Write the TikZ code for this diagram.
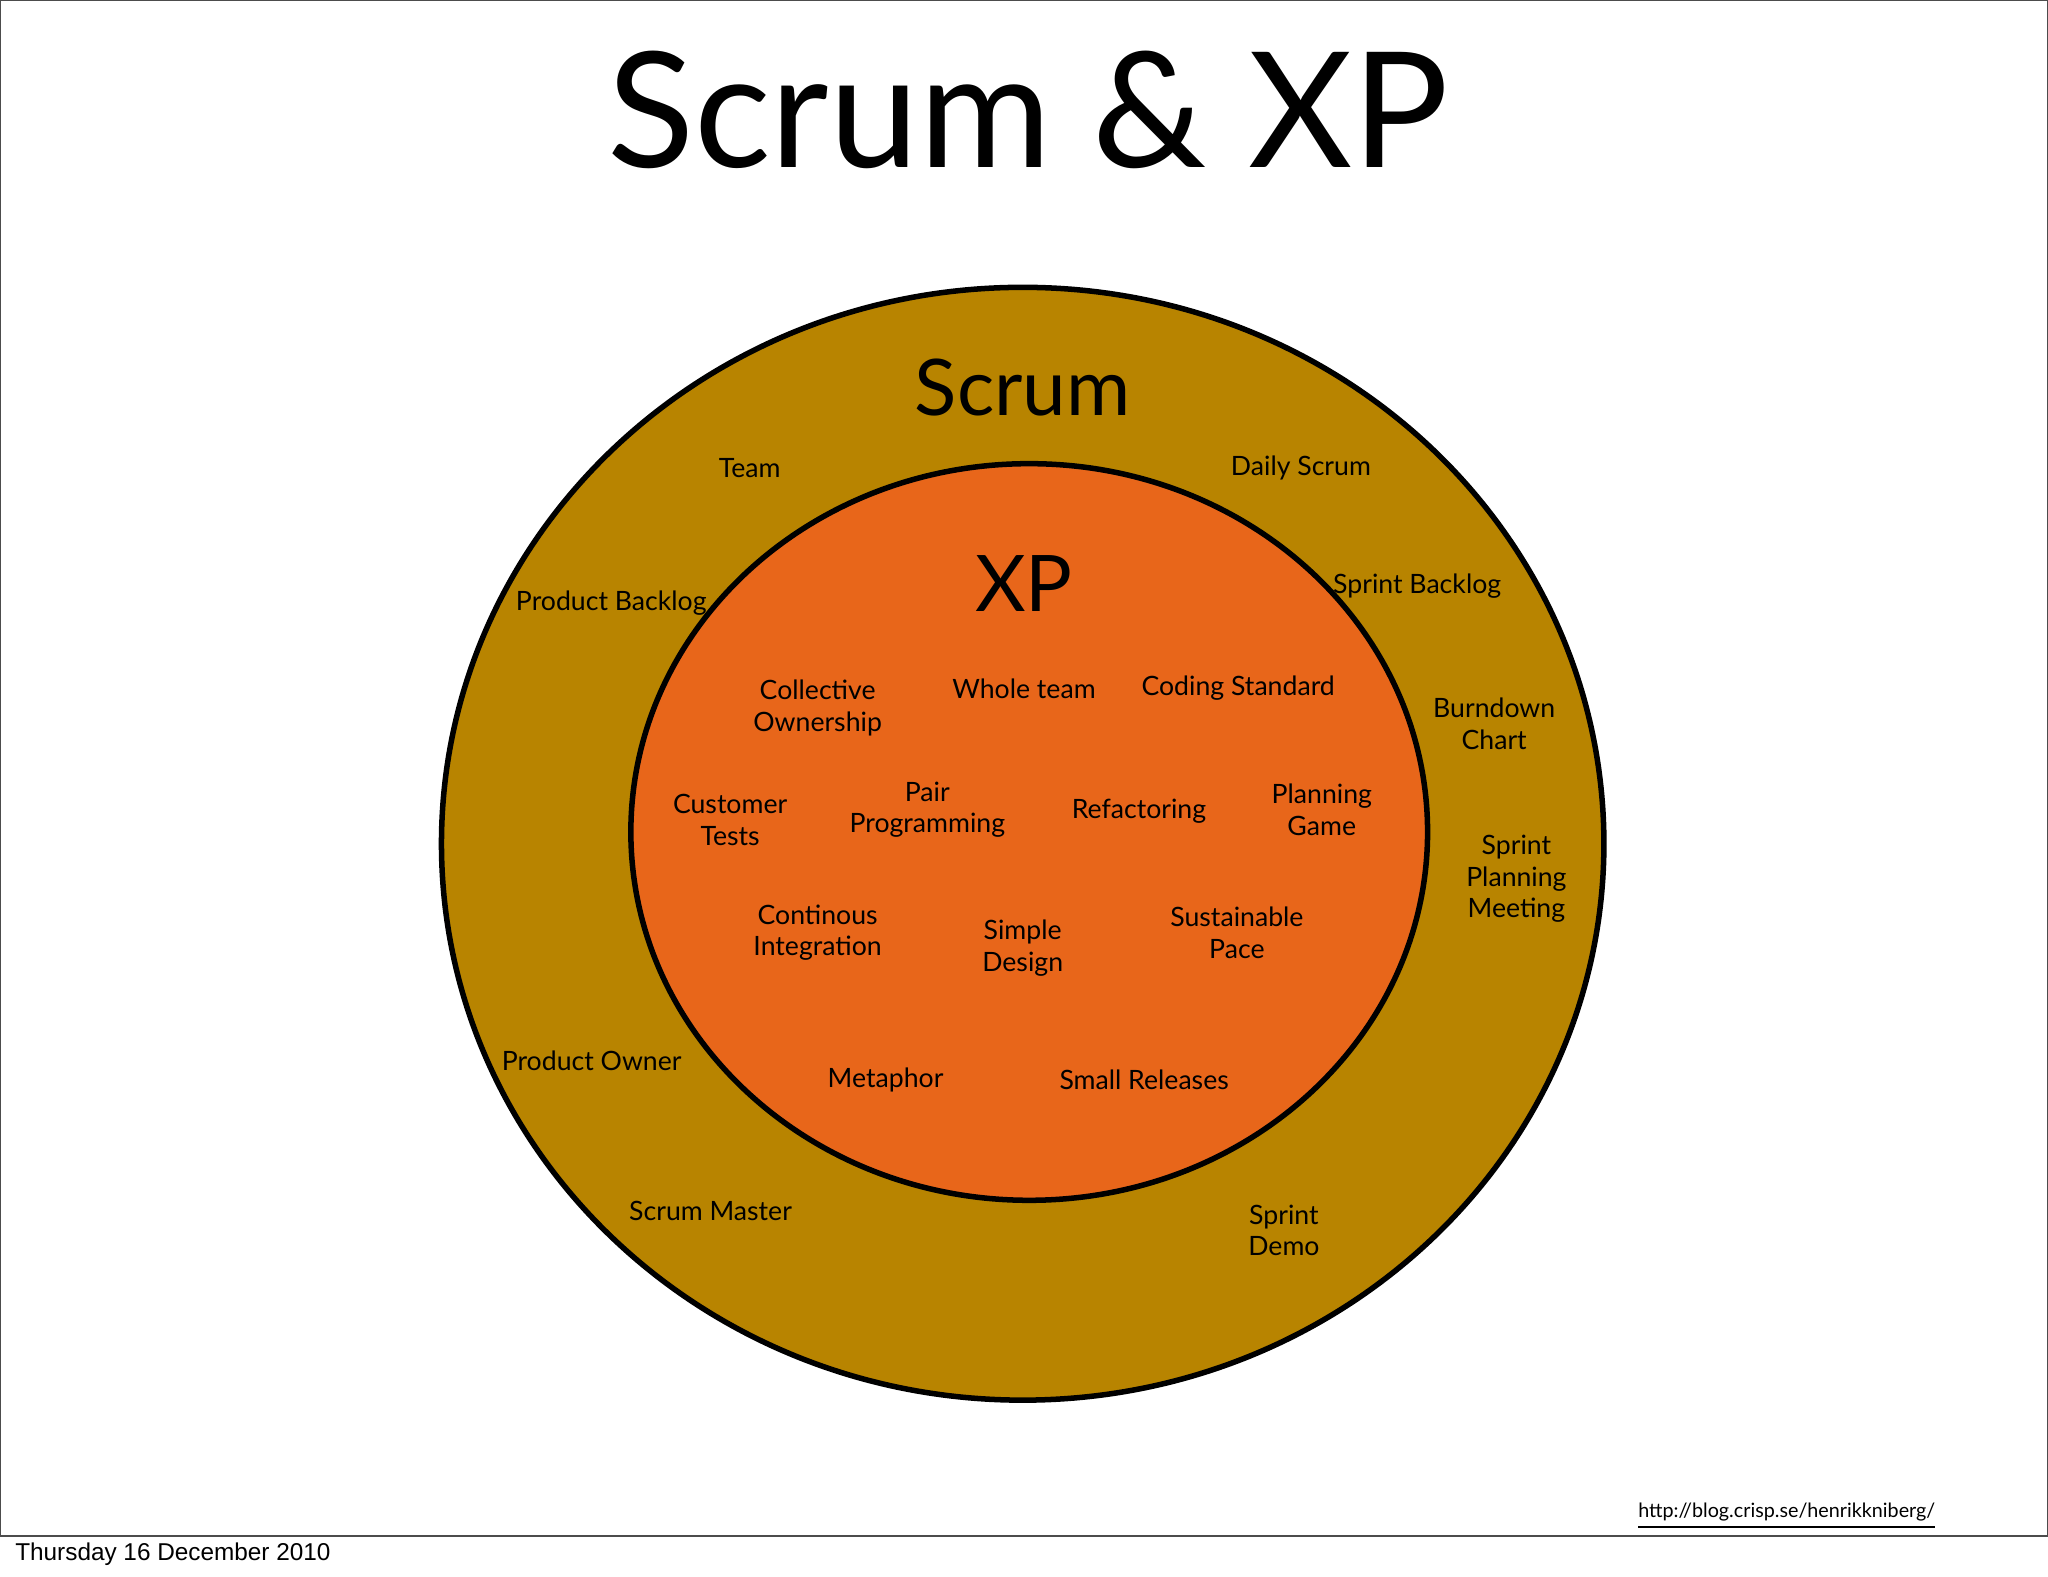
\documentclass[tikz,border=0pt]{standalone}
\usepackage{fontspec}
\setmainfont{Lato}
\newfontfamily\datefont{Liberation Sans}
\begin{document}
\begin{tikzpicture}[x=0.01cm,y=-0.01cm,
 lab/.style={align=center,font=\fontsize{5.8pt}{6.9pt}\selectfont,inner sep=0pt}]
\useasboundingbox (0,0) rectangle (1568,1207);
\fill[white] (0,0) rectangle (1568,1207);
\draw[line width=0.5pt,black!70] (0,0) rectangle (1568,1176);
\node[inner sep=0pt,font=\fontsize{35pt}{40pt}\selectfont] (title) at (787,84) {Scrum \& XP};
\draw[fill={rgb,255:red,184;green,132;blue,0},line width=1.2pt] (783,646) ellipse [x radius=445,y radius=426];
\draw[fill={rgb,255:red,232;green,102;blue,26},line width=1.2pt] (788,637) ellipse [x radius=305,y radius=282];
\node[inner sep=0pt,font=\fontsize{17pt}{20pt}\selectfont] (scrum) at (783,297) {Scrum};
\node[inner sep=0pt,font=\fontsize{17pt}{20pt}\selectfont] (xp) at (784,447) {XP};
\node[lab] (a1) at (574,358) {Team};
\node[lab] (a2) at (996,358) {Daily Scrum};
\node[lab] (a3) at (468,462) {Product Backlog};
\node[lab] (a4) at (1085,449) {Sprint Backlog};
\node[lab] (a5) at (1144,554) {Burndown\\Chart};
\node[lab] (a6) at (1161,673) {Sprint\\Planning\\Meeting};
\node[lab] (a7) at (453,812) {Product Owner};
\node[lab] (a8) at (544,927) {Scrum Master};
\node[lab] (a9) at (983,942) {Sprint\\Demo};
\node[lab] (b1) at (626,542) {Collective\\Ownership};
\node[lab] (b2) at (784,527) {Whole team};
\node[lab] (b3) at (948,527) {Coding Standard};
\node[lab] (b4) at (559,628) {Customer\\Tests};
\node[lab] (b5) at (710,620) {Pair\\Programming};
\node[lab] (b6) at (872,621) {Refactoring};
\node[lab] (b7) at (1012,620) {Planning\\Game};
\node[lab] (b8) at (626,714) {Continous\\Integration};
\node[lab] (b9) at (783,726) {Simple\\Design};
\node[lab] (b10) at (947,714) {Sustainable\\Pace};
\node[lab] (b11) at (678,827) {Metaphor};
\node[lab] (b12) at (876,827) {Small Releases};
\node[inner sep=0pt,font=\fontsize{4.3pt}{5pt}\selectfont] (url) at (1368,1161) {\underline{http://blog.crisp.se/henrikkniberg/}};
\node[inner sep=0pt,anchor=west,font=\datefont\fontsize{5.3pt}{6pt}\selectfont] (date) at (11,1190) {Thursday 16 December 2010};
\end{tikzpicture}
\end{document}
